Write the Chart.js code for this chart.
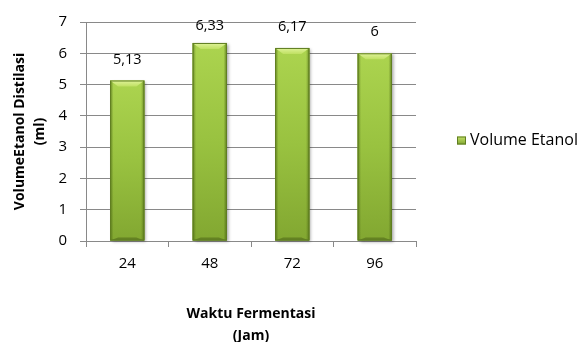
<!DOCTYPE html>
<html>
<head>
<meta charset="utf-8">
<script src="https://cdn.jsdelivr.net/npm/chart.js@4.4.1/dist/chart.umd.min.js"></script>
<style>
  html, body { margin: 0; padding: 0; background: #ffffff; }
  #wrap { width: 582px; height: 342px; position: relative; }
</style>
</head>
<body>
<div id="wrap"><canvas id="c" width="582" height="342"></canvas></div>
<script>
// Fermentation time (hours) and distilled ethanol volume (ml)
const categories = ['24', '48', '72', '96'];
const volumeEtanol = [5.13, 6.33, 6.17, 6];
const valueLabels = ['5,13', '6,33', '6,17', '6'];
const seriesName = 'Volume Etanol';
const yTitle = ['VolumeEtanol Distilasi', '(ml)'];
const xTitle = ['Waktu Fermentasi', '(Jam)'];

const FONT = "'Open Sans', 'Liberation Sans', sans-serif";
const GRID = '#898989';

// Paints a bevelled green column over a bar rectangle
function paintColumn(ctx, left, top, right, bottom) {
  const w = right - left;
  const h = bottom - top;
  ctx.save();
  // soft drop shadow
  ctx.shadowColor = 'rgba(0,0,0,0.35)';
  ctx.shadowBlur = 3;
  ctx.shadowOffsetX = 2;
  ctx.shadowOffsetY = 1;
  const body = ctx.createLinearGradient(0, top, 0, bottom);
  body.addColorStop(0, '#acd44f');
  body.addColorStop(0.5, '#99c240');
  body.addColorStop(1, '#82a731');
  ctx.fillStyle = body;
  ctx.fillRect(left, top, w, h);
  ctx.restore();

  ctx.save();
  // darker side edges
  const side = ctx.createLinearGradient(left, 0, right, 0);
  side.addColorStop(0, 'rgba(60,85,10,0.55)');
  side.addColorStop(0.1, 'rgba(60,85,10,0)');
  side.addColorStop(0.9, 'rgba(60,85,10,0)');
  side.addColorStop(1, 'rgba(60,85,10,0.55)');
  ctx.fillStyle = side;
  ctx.fillRect(left, top, w, h);

  // top bevel
  const bev = Math.min(6, h / 2);
  const inset = Math.min(8, w / 3);
  const topG = ctx.createLinearGradient(0, top, 0, top + bev);
  topG.addColorStop(0, '#e0f39a');
  topG.addColorStop(1, '#bfe062');
  ctx.fillStyle = topG;
  ctx.beginPath();
  ctx.moveTo(left, top);
  ctx.lineTo(right, top);
  ctx.lineTo(right - inset, top + bev);
  ctx.lineTo(left + inset, top + bev);
  ctx.closePath();
  ctx.fill();

  // bottom bevel
  const botBev = Math.min(3, h / 2);
  ctx.fillStyle = 'rgba(80,105,25,0.6)';
  ctx.beginPath();
  ctx.moveTo(left, bottom);
  ctx.lineTo(right, bottom);
  ctx.lineTo(right - inset, bottom - botBev);
  ctx.lineTo(left + inset, bottom - botBev);
  ctx.closePath();
  ctx.fill();

  // outline
  ctx.strokeStyle = '#5f7d22';
  ctx.lineWidth = 1;
  ctx.strokeRect(left + 0.5, top + 0.5, w - 1, h - 1);
  ctx.restore();
}

const columnStyle = {
  id: 'columnStyle',
  afterDatasetsDraw(chart) {
    const ctx = chart.ctx;
    const meta = chart.getDatasetMeta(0);
    meta.data.forEach((bar) => {
      const p = bar.getProps(['x', 'y', 'base', 'width'], true);
      paintColumn(ctx, p.x - p.width / 2, p.y, p.x + p.width / 2, p.base);
    });
    // value labels above each column
    ctx.save();
    ctx.font = '14.5px ' + FONT;
    ctx.fillStyle = '#000000';
    ctx.textAlign = 'center';
    ctx.textBaseline = 'middle';
    meta.data.forEach((bar, i) => {
      const p = bar.getProps(['x', 'y'], true);
      const ly = Math.max(p.y - 21, chart.chartArea.top + 4);
      ctx.fillText(valueLabels[i], p.x, ly);
    });
    ctx.restore();
  },
  afterDraw(chart) {
    // legend entry to the right of the plot
    const ctx = chart.ctx;
    const area = chart.chartArea;
    const bx = area.right + 41;
    const cy = area.top + (area.bottom - area.top) / 2 + 9;
    ctx.save();
    const g = ctx.createLinearGradient(0, cy - 4, 0, cy + 4);
    g.addColorStop(0, '#c6e36a');
    g.addColorStop(1, '#7fa42f');
    ctx.fillStyle = g;
    ctx.fillRect(bx, cy - 4, 9, 8);
    ctx.strokeStyle = '#5f7d22';
    ctx.lineWidth = 1;
    ctx.strokeRect(bx + 0.5, cy - 3.5, 8, 7);
    ctx.font = '16px ' + FONT;
    ctx.fillStyle = '#000000';
    ctx.textAlign = 'left';
    ctx.textBaseline = 'middle';
    ctx.fillText(chart.data.datasets[0].label, bx + 13, cy);
    ctx.restore();
  }
};

new Chart(document.getElementById('c'), {
  type: 'bar',
  data: {
    labels: categories,
    datasets: [{
      label: seriesName,
      data: volumeEtanol,
      backgroundColor: '#99c240',
      borderWidth: 0,
      barPercentage: 0.415,
      categoryPercentage: 1
    }]
  },
  plugins: [columnStyle],
  options: {
    responsive: false,
    animation: false,
    devicePixelRatio: 1,
    layout: { padding: { top: 19, right: 166, bottom: 0, left: 0 } },
    plugins: {
      legend: { display: false },
      tooltip: { enabled: false }
    },
    scales: {
      x: {
        offset: true,
        grid: {
          offset: true,
          drawOnChartArea: false,
          drawTicks: true,
          tickLength: 6,
          color: GRID,
          lineWidth: 1
        },
        border: { color: GRID, width: 1 },
        ticks: {
          color: '#000000',
          font: { family: FONT, size: 15 },
          padding: 8,
          maxRotation: 0
        },
        title: {
          display: true,
          text: xTitle,
          color: '#000000',
          font: { family: FONT, size: 14, weight: 'bold', lineHeight: '22px' },
          padding: { top: 0, bottom: -5 }
        },
        afterFit(scale) { scale.height = 101; }
      },
      y: {
        min: 0,
        max: 7,
        ticks: {
          stepSize: 1,
          color: '#000000',
          font: { family: FONT, size: 15 },
          padding: 13
        },
        grid: {
          color: GRID,
          lineWidth: 1,
          tickLength: 6,
          drawTicks: true
        },
        border: { color: GRID, width: 1 },
        title: {
          display: true,
          text: yTitle,
          color: '#000000',
          font: { family: FONT, size: 14, weight: 'bold', lineHeight: '20px' },
          padding: { top: 10, bottom: 0 }
        },
        afterFit(scale) { scale.width = 86; }
      }
    }
  }
});
</script>
</body>
</html>
